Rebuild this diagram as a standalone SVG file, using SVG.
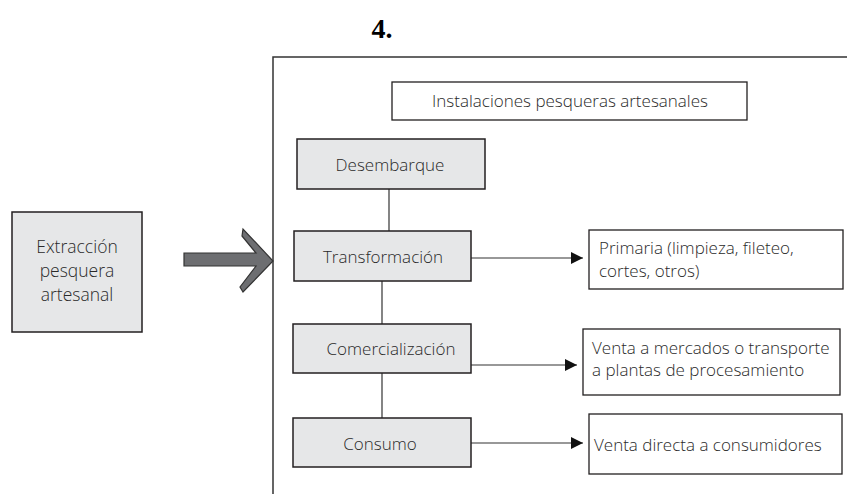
<svg xmlns="http://www.w3.org/2000/svg" width="847" height="494" viewBox="0 0 847 494">
<defs>
<style>
.gray{fill:#e6e7e8;stroke:#231f20;stroke-width:1.5}
.white{fill:#ffffff;stroke:#231f20;stroke-width:1.3}
.t{font-family:"Open Sans","Noto Sans",sans-serif;font-size:17px;fill:#2a2a2a;font-weight:300}
.c{text-anchor:middle}
.ln{stroke:#333333;stroke-width:1.2;fill:none}
</style>
<marker id="ah" viewBox="0 0 10 10" refX="10" refY="5" markerWidth="12" markerHeight="12" markerUnits="userSpaceOnUse" orient="auto">
<path d="M0,0 L10,5 L0,10 z" fill="#111111"/>
</marker>
</defs>
<rect width="847" height="494" fill="#ffffff"/>
<text x="382" y="38" font-family="Liberation Serif,serif" font-weight="bold" font-size="28" text-anchor="middle" fill="#000">4.</text>
<g id="frame">
<path d="M273,494 L273,57 L847,57" fill="none" stroke="#333333" stroke-width="1.5"/>
</g>
<g id="extraccion">
<rect class="gray" x="12" y="212" width="130" height="120"/>
<text class="t c" x="77" y="253" style="font-size:17.5px">Extracción</text>
<text class="t c" x="77" y="277" style="font-size:17.5px">pesquera</text>
<text class="t c" x="77" y="301" style="font-size:17.5px">artesanal</text>
</g>
<g id="big-arrow">
<polygon points="184,253 256,253 242,236 243,229 273,261 243,292 240,287 256,266 184,266" fill="#6d6e71" stroke="#333333" stroke-width="1.2"/>
</g>
<g id="instalaciones">
<rect class="white" x="392" y="82" width="355" height="38"/>
<text class="t c" x="570" y="107">Instalaciones pesqueras artesanales</text>
</g>
<g id="connectors">
<line class="ln" x1="389" y1="189" x2="389" y2="231"/>
<line class="ln" x1="382" y1="281" x2="382" y2="324"/>
<line class="ln" x1="382" y1="373" x2="382" y2="418"/>
<line class="ln" x1="471" y1="258" x2="583" y2="258" marker-end="url(#ah)"/>
<line class="ln" x1="471" y1="365" x2="577" y2="365" marker-end="url(#ah)"/>
<line class="ln" x1="471" y1="443" x2="583" y2="443" marker-end="url(#ah)"/>
</g>
<g id="desembarque">
<rect class="gray" x="297" y="139" width="188" height="50"/>
<text class="t c" x="390" y="171">Desembarque</text>
</g>
<g id="transformacion">
<rect class="gray" x="294" y="231" width="177" height="50"/>
<text class="t c" x="383" y="263">Transformación</text>
</g>
<g id="comercializacion">
<rect class="gray" x="293" y="324" width="178" height="49"/>
<text class="t c" x="391" y="355">Comercialización</text>
</g>
<g id="consumo">
<rect class="gray" x="293" y="418" width="178" height="49"/>
<text class="t c" x="380" y="450">Consumo</text>
</g>
<g id="primaria">
<rect class="white" x="589" y="230" width="254" height="59"/>
<text class="t" x="599" y="254">Primaria (limpieza, fileteo,</text>
<text class="t" x="599" y="277">cortes, otros)</text>
</g>
<g id="venta-mercados">
<rect class="white" x="583" y="329" width="257" height="66"/>
<text class="t" x="592" y="354">Venta a mercados o transporte</text>
<text class="t" x="592" y="376">a plantas de procesamiento</text>
</g>
<g id="venta-directa">
<rect class="white" x="589" y="414" width="253" height="60"/>
<text class="t" x="594" y="451">Venta directa a consumidores</text>
</g>
</svg>
